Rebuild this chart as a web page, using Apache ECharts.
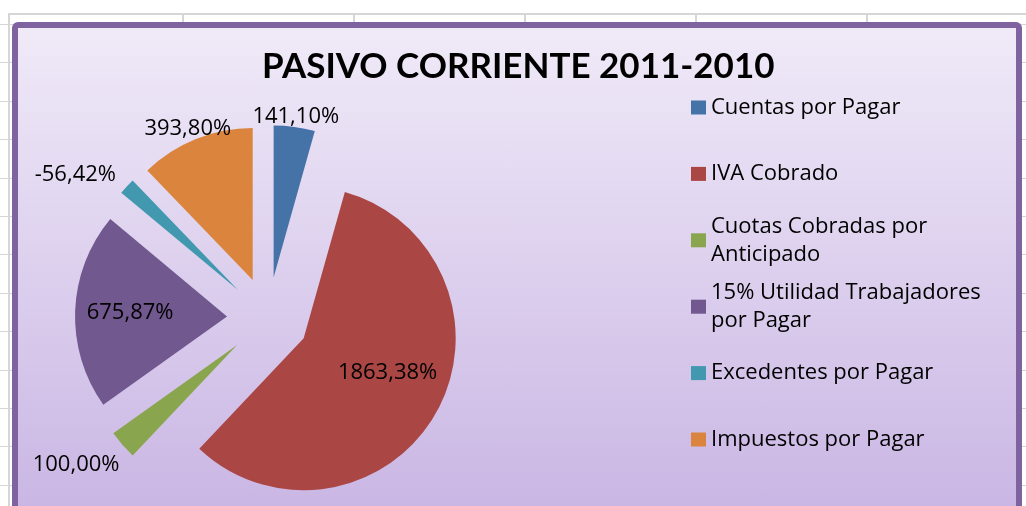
<!DOCTYPE html>
<html>
<head>
<meta charset="utf-8">
<script src="https://cdn.jsdelivr.net/npm/echarts@6/dist/echarts.min.js"></script>
<style>
	html, body { margin: 0; padding: 0; background: #fff; overflow: hidden; }
	#sheet { position: absolute; left: 0; top: 0; width: 1026px; height: 506px; }
	.gl { position: absolute; background: #d6d6d6; }
	#frame {
		position: absolute; left: 12px; top: 22px; width: 998px; height: 500px;
		border: 6px solid #7f63a1; border-radius: 6px;
		background: linear-gradient(#f0eaf8, #c8b4e3);
	}
	#chart { position: absolute; left: 0; top: 0; width: 1026px; height: 506px; }
</style>
</head>
<body>
<div id="sheet"></div>
<div id="frame"></div>
<div id="chart"></div>
<script>
	// datos del grafico
	var titulo = 'PASIVO CORRIENTE 2011-2010';
	var cuentas = ['Cuentas por Pagar', 'IVA Cobrado', 'Cuotas Cobradas por Anticipado',
		'15% Utilidad Trabajadores por Pagar', 'Excedentes por Pagar', 'Impuestos por Pagar'];
	var variacion = [141.10, 1863.38, 100.00, 675.87, -56.42, 393.80];
	var colores = ['#4572a7', '#aa4643', '#89a54e', '#71588f', '#4198af', '#db843d'];

	// rejilla de la hoja de calculo (fondo)
	var sheet = document.getElementById('sheet');
	function linea(l, t, w, h){
		var d = document.createElement('div');
		d.className = 'gl';
		d.style.left = l + 'px'; d.style.top = t + 'px';
		d.style.width = w + 'px'; d.style.height = h + 'px';
		sheet.appendChild(d);
	}
	linea(8, 13, 1018, 2);
	linea(8, 13, 2, 493);
	var cols = [182, 353, 524, 695, 866];
	for(let x of cols){ linea(x, 13, 2, 20); }
	for(let k = 0; k < 13; k++){ linea(0, Math.round(24 + k * 38.4), 1026, 1); }

	var fuenteTitulo = 'Lato, "Open Sans", sans-serif';
	var fuente = '"Open Sans", "Noto Sans", sans-serif';
	// desplazamiento de cada etiqueta: radial (length) y horizontal (length2)
	var alcance = [10, -82, 31, -55, 17, 11];
	var alcance2 = [0, 23, 23, 0, 39, 4];
	var lineasLeyenda = [1, 1, 2, 2, 1, 1];

	function fmt(v){
		return v.toFixed(2).replace('.', ',') + '%';
	}

	var pieData = [];
	for(let i = 0; i < cuentas.length; i++){
		pieData.push({
			name: cuentas[i],
			value: Math.abs(variacion[i]),
			selected: true,
			itemStyle: { color: colores[i] },
			labelLine: { show: false, length: alcance[i], length2: alcance2[i] }
		});
	}

	var leyendas = [];
	for(let i = 0; i < cuentas.length; i++){
		var centro = 107.5 + i * 66.4;
		var dos = lineasLeyenda[i] == 2;
		leyendas.push({
			data: [{ name: cuentas[i], textStyle: dos ? { padding: [28, 0, 0, 0] } : {} }],
			left: 691,
			top: dos ? centro - 42 : centro - 14,
			orient: 'vertical',
			padding: 0,
			icon: 'rect',
			itemWidth: 15,
			itemHeight: 14,
			selectedMode: false,
			textStyle: {
				fontFamily: fuente,
				fontSize: 22,
				color: '#000',
				lineHeight: 28,
				width: 295,
				overflow: 'break'
			}
		});
	}

	var chart = echarts.init(document.getElementById('chart'));
	chart.setOption({
		animation: false,
		backgroundColor: 'transparent',
		title: {
			text: titulo,
			left: 257,
			top: 44,
			textStyle: {
				fontFamily: fuenteTitulo,
				fontWeight: 'bold',
				fontSize: 35,
				color: '#000'
			}
		},
		legend: leyendas,
		series: [{
			type: 'pie',
			center: [268, 318],
			radius: 152,
			startAngle: 90,
			selectedMode: 'multiple',
			selectedOffset: 41,
			avoidLabelOverlap: false,
			emphasis: { disabled: true },
			label: {
				show: true,
				position: 'outside',
				distanceToLabelLine: 0,
				fontFamily: fuente,
				fontSize: 22,
				color: '#000',
				formatter: function(p){
					return fmt(variacion[p.dataIndex]);
				}
			},
			labelLine: { show: false },
			labelLayout: function(){
				return { align: 'center', verticalAlign: 'middle' };
			},
			data: pieData
		}]
	});
</script>
</body>
</html>
